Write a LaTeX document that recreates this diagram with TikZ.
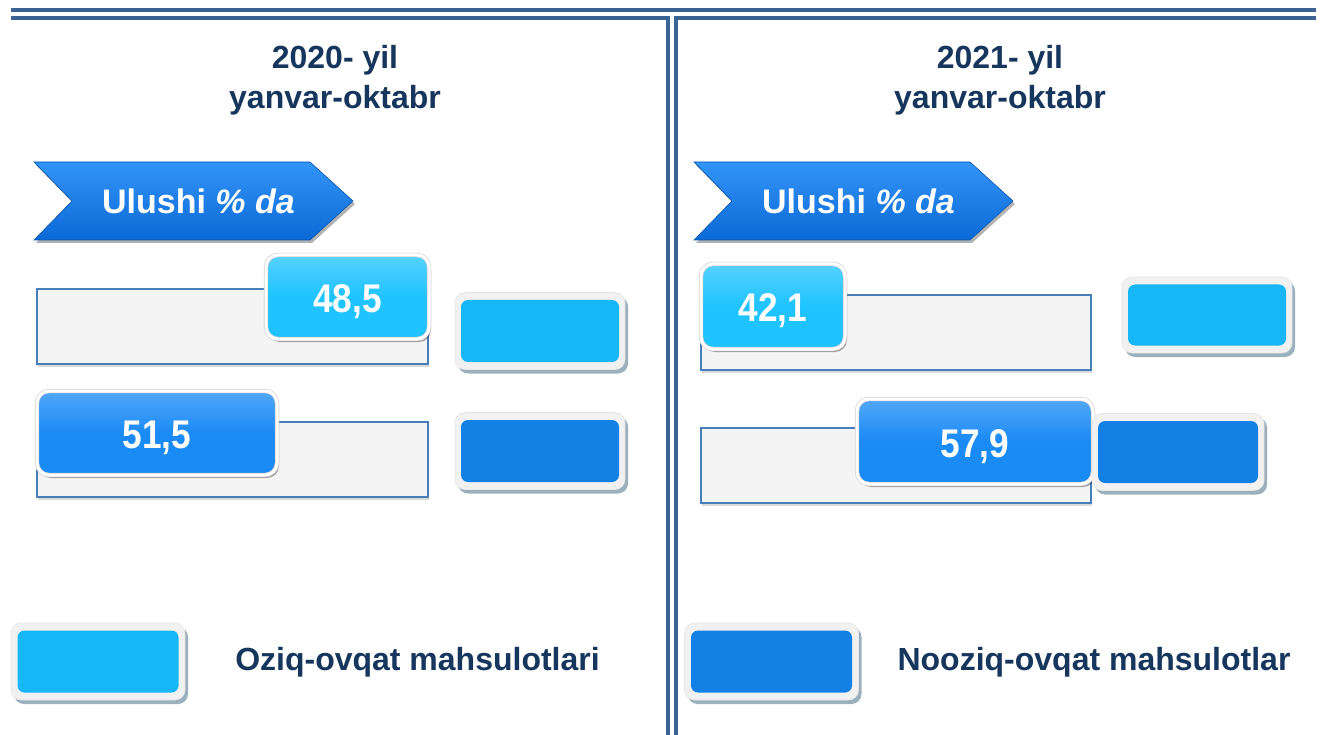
\documentclass[tikz,border=0pt]{standalone}
\usepackage{fontspec}
\setmainfont{Liberation Sans}
\usetikzlibrary{shadows}
\definecolor{navy}{HTML}{17365D}
\definecolor{rulec}{HTML}{3A6292}
\definecolor{trackline}{HTML}{4A7EBB}
\definecolor{trackfill}{HTML}{F4F4F4}
\definecolor{lightv}{HTML}{1EC3FF}
\definecolor{darkv}{HTML}{1A8AF5}
\definecolor{lightsw}{HTML}{17B6F6}
\definecolor{darksw}{HTML}{1380E6}
\definecolor{swshadow}{HTML}{9BB0BC}
\definecolor{swouter}{HTML}{F1F1F1}
\definecolor{chevtop}{HTML}{3394F8}
\definecolor{chevbot}{HTML}{0B69D6}
\newcommand{\valtxt}[1]{\raisebox{-15.5pt}[0pt][0pt]{\scalebox{0.88}[1]{#1}}}
\begin{document}
\begin{tikzpicture}[x=1pt,y=-1pt,
  rulepath/.style={draw=rulec,line width=4pt},
  titletext/.style={text=navy,font=\fontsize{32}{40}\selectfont\bfseries,align=center},
  legtext/.style={text=navy,font=\fontsize{32}{38}\selectfont\bfseries},
  track/.style={draw=trackline,line width=2.2pt,fill=trackfill,inner sep=0pt,
    drop shadow={shadow xshift=1pt,shadow yshift=-3pt,opacity=0.15,fill=black}},
  valbox/.style={rounded corners=12pt,draw=black!18,double=white,double distance=3pt,line width=0.7pt,inner sep=0pt,
    text=white,font=\fontsize{40}{42}\selectfont\bfseries,
    drop shadow={shadow xshift=2pt,shadow yshift=-3pt,opacity=0.35,fill=black}},
  lightval/.style={valbox,top color=lightv!75!white,bottom color=lightv,middle color=lightv},
  darkval/.style={valbox,top color=darkv!75!white,bottom color=darkv,middle color=darkv},
  swout/.style={rounded corners=10pt,fill=swouter,draw=black!10,line width=0.6pt,inner sep=0pt,
    drop shadow={shadow xshift=3pt,shadow yshift=-4pt,opacity=1,fill=swshadow}},
  swin/.style={rounded corners=7pt,inner sep=0pt},
  chev/.style={top color=chevtop,bottom color=chevbot,draw=chevbot!80!black,line width=0.6pt,
    drop shadow={shadow xshift=2pt,shadow yshift=-3pt,opacity=0.3,fill=black}},
  chevtext/.style={text=white,font=\fontsize{34}{38}\selectfont\bfseries}
]
\useasboundingbox (0,0) rectangle (1325,735);

% frame rules
\draw[rulepath] (11,10) -- (1316,10);
\draw[rulepath] (11,18) -- (668,18) -- (668,737);
\draw[rulepath] (676,737) -- (676,18) -- (1316,18);

% titles
\node[titletext] (t1) at (335,80) {2020- yil\\yanvar-oktabr};
\node[titletext] (t2) at (1000,80) {2021- yil\\yanvar-oktabr};

% chevrons
\path[chev] (34,162) -- (310,162) -- (353,201) -- (310,240) -- (34,240) -- (72,201) -- cycle;
\node[chevtext] (c1) at (198.5,201) {Ulushi \textit{\% da}};
\path[chev] (694,162) -- (970,162) -- (1013,201) -- (970,240) -- (694,240) -- (732,201) -- cycle;
\node[chevtext] (c2) at (858.5,201) {Ulushi \textit{\% da}};

% left panel
\node[track,minimum width=391pt,minimum height=75pt] (lt1) at (232.5,326.5) {};
\node[track,minimum width=391pt,minimum height=75pt] (lt2) at (232.5,459.5) {};
\node[lightval,minimum width=163pt,minimum height=84pt] (lv1) at (347.5,297) {\valtxt{48,5}};
\node[darkval,minimum width=240pt,minimum height=84pt] (lv2) at (157,433) {\valtxt{51,5}};
\node[swout,minimum width=170pt,minimum height=77pt] (ls1) at (540,331) {};
\node[swin,fill=lightsw,minimum width=158pt,minimum height=62pt] (ls1i) at (ls1) {};
\node[swout,minimum width=170pt,minimum height=77pt] (ls2) at (540,451) {};
\node[swin,fill=darksw,minimum width=158pt,minimum height=62pt] (ls2i) at (ls2) {};

% right panel
\node[track,minimum width=390pt,minimum height=75pt] (rt1) at (896,332.5) {};
\node[track,minimum width=390pt,minimum height=75pt] (rt2) at (896,465.5) {};
\node[lightval,minimum width=144pt,minimum height=85pt] (rv1) at (773,306.5) {\valtxt{42,1}};
\node[darkval,minimum width=236pt,minimum height=85pt] (rv2) at (975,441.5) {\valtxt{57,9}};
\node[swout,minimum width=170pt,minimum height=76pt] (rs1) at (1207,315) {};
\node[swin,fill=lightsw,minimum width=158pt,minimum height=61pt] (rs1i) at (rs1) {};
\node[swout,minimum width=172pt,minimum height=77pt] (rs2) at (1178,452) {};
\node[swin,fill=darksw,minimum width=160pt,minimum height=62pt] (rs2i) at (rs2) {};

% legend
\node[swout,minimum width=174pt,minimum height=77pt] (g1) at (98,661.5) {};
\node[swin,fill=lightsw,minimum width=161pt,minimum height=62pt] (g1i) at (g1) {};
\node[legtext] (g1t) at (417.5,662) {Oziq-ovqat mahsulotlari};
\node[swout,minimum width=174pt,minimum height=77pt] (g2) at (771.5,661.5) {};
\node[swin,fill=darksw,minimum width=161pt,minimum height=62pt] (g2i) at (g2) {};
\node[legtext] (g2t) at (1094,662) {Nooziq-ovqat mahsulotlar};
\end{tikzpicture}
\end{document}
